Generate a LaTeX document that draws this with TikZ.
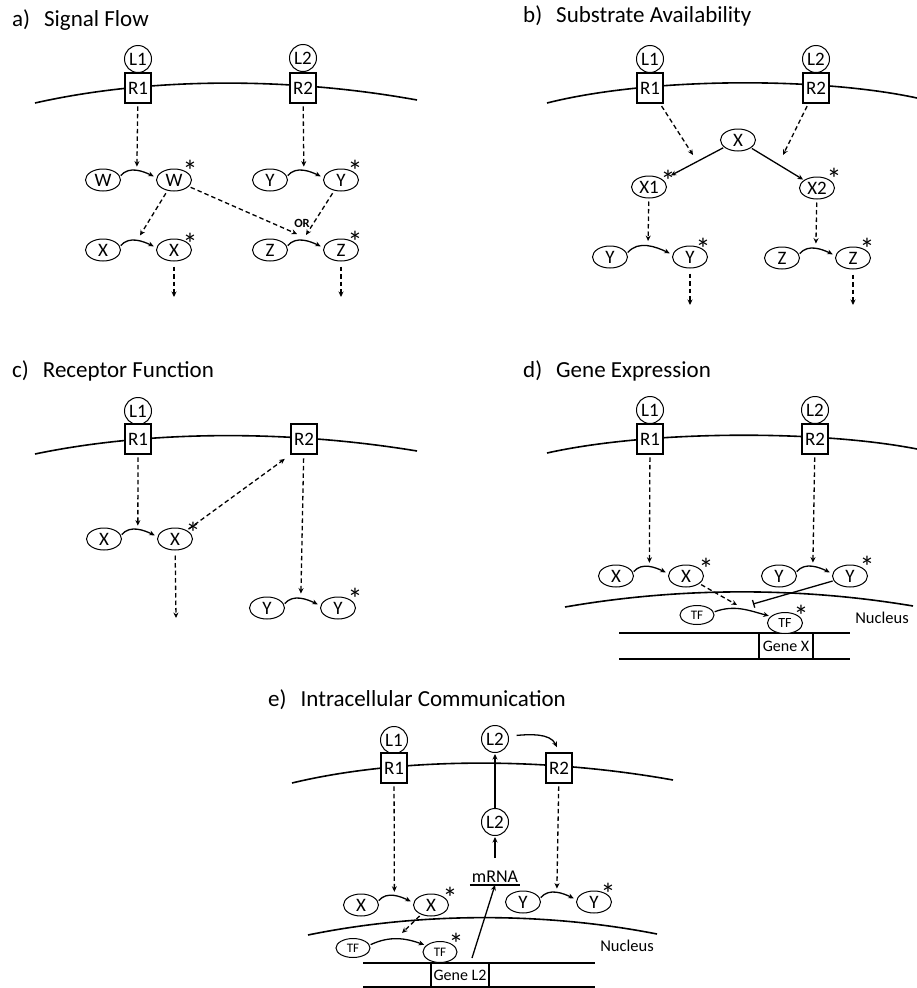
\documentclass[tikz,border=0pt]{standalone}
\usepackage{fontspec}
\setmainfont{Carlito}
\usetikzlibrary{arrows.meta,shapes.geometric,calc}
\newcommand\kinpair[7]{%
  \node[mol] (#1) at (#3,#4) {#2};
  \node[mol] (#1s) at ({#3+#5},#4) {#2};
  \node[ast] (#1a) at (#6,{#7+5.5}) {*};
  \draw[conv,shorten <=1pt,shorten >=3pt] (#1.12) to[out=50,in=155] node[coordinate,pos=.5] (#1m) {} (#1s.172);
}
\begin{document}
\begin{tikzpicture}[x=1pt,y=1pt,
  >={Stealth[length=5.5pt,width=5pt]},
  lig/.style={circle,draw,line width=1pt,minimum size=27pt,inner sep=0pt,font=\fontsize{19}{19}\selectfont,fill=white},
  rec/.style={rectangle,draw,line width=2.7pt,minimum width=26pt,minimum height=30pt,inner sep=0pt,font=\fontsize{19}{19}\selectfont,fill=white},
  mol/.style={ellipse,draw,line width=1pt,minimum width=35pt,minimum height=22pt,inner sep=0pt,font=\fontsize{19}{19}\selectfont},
  tf/.style={ellipse,draw,line width=1pt,minimum width=34pt,minimum height=19pt,inner sep=0pt,font=\fontsize{13}{13}\selectfont},
  memb/.style={line width=1.6pt},
  dsh/.style={->,line width=1.3pt,dash pattern=on 4.5pt off 3pt},
  conv/.style={->,line width=1.3pt},
  ttl/.style={anchor=base west,font=\fontsize{23}{24}\selectfont,inner sep=0pt},
  ast/.style={anchor=north,inner sep=0pt,font=\fontsize{30}{30}\selectfont},
  lbl/.style={inner sep=0pt,font=\fontsize{16.5}{17}\selectfont},
  gene/.style={draw,line width=1.2pt,minimum width=54pt,minimum height=26pt,inner sep=0pt,font=\fontsize{16}{16}\selectfont},
  dna/.style={line width=1.2pt},
]
\useasboundingbox (0,0) rectangle (917,-988);

% ---------------- titles
\node[ttl] (ta) at (12,-26) {a)\hspace{14pt}Signal Flow};
\node[ttl] (tb) at (523,-22) {b)\hspace{14pt}Substrate Availability};
\node[ttl] (tc) at (12,-377) {c)\hspace{14pt}Receptor Function};
\node[ttl] (td) at (523,-377) {d)\hspace{14pt}Gene Expression};
\node[ttl] (te) at (268,-706) {e)\hspace{14pt}Intracellular Communication};

% ---------------- membranes
\draw[memb] (35,-103) .. controls (150,-77) and (290,-77) .. (417,-100);
\draw[memb] (547,-103) .. controls (650,-77) and (820,-77) .. (917,-98);
\draw[memb] (35,-454) .. controls (150,-430) and (290,-430) .. (417,-451);
\draw[memb] (547,-453) .. controls (650,-430) and (820,-430) .. (917,-449);
\draw[memb] (565,-607) .. controls (680,-587) and (800,-587) .. (913,-606);
\draw[memb] (292,-783) .. controls (400,-757) and (545,-757) .. (673,-780);
\draw[memb] (308,-935) .. controls (420,-912) and (545,-912) .. (657,-934);

% ================= a) Signal Flow
\node[lig] (aL1) at (138,-59) {L1};
\node[rec] (aR1) at (138,-88) {R1};
\node[lig] (aL2) at (303,-58) {L2};
\node[rec] (aR2) at (303,-88) {R2};
\kinpair{aW}{W}{103}{-180}{71}{190}{-165}
\kinpair{aX}{X}{103}{-250}{71}{190}{-238}
\kinpair{aY}{Y}{270}{-180}{71}{355}{-165}
\kinpair{aZ}{Z}{270}{-250}{71}{355}{-236}
\draw[dsh,shorten <=2pt,shorten >=4pt] (aR1) -- (aWm);
\draw[dsh,shorten <=2pt,shorten >=4pt] (aR2) -- (aYm);
\draw[dsh,shorten <=3pt,shorten >=6pt] (aWs) -- (aXm);
\coordinate (aOR1) at (297,-234);
\coordinate (aOR2) at (306,-235);
\draw[dsh,shorten <=2pt] (aWs) -- (aOR1);
\draw[dsh,shorten <=3pt] (aYs) -- (aOR2);
\node[inner sep=0pt,font=\bfseries\fontsize{12.5}{12.5}\selectfont] (aOR) at (302,-223) {OR};
\coordinate (aXd) at (174,-297);
\coordinate (aZd) at (341,-297);
\draw[dsh,shorten <=5pt] (aXs) -- (aXd);
\draw[dsh,shorten <=5pt] (aZs) -- (aZd);

% ================= b) Substrate Availability
\node[lig] (bL1) at (650,-59) {L1};
\node[rec] (bR1) at (650,-88) {R1};
\node[lig] (bL2) at (816,-59) {L2};
\node[rec] (bR2) at (816,-88) {R2};
\node[mol] (bX) at (738,-140) {X};
\node[mol] (bX1) at (649,-187) {X1};
\node[ast] (bX1a) at (668,-169.5) {*};
\node[mol] (bX2) at (817,-188) {X2};
\node[ast] (bX2a) at (834,-167.5) {*};
\coordinate (bA1) at (693,-155);
\coordinate (bA2) at (783,-155);
\draw[dsh,shorten <=2pt] (bR1) -- (bA1);
\draw[dsh,shorten <=2pt] (bR2) -- (bA2);
\draw[conv,shorten <=1pt,shorten >=9pt] (bX) -- (bX1);
\draw[conv,shorten <=1pt,shorten >=1pt] (bX) -- (bX2);
\kinpair{bY}{Y}{610}{-257}{80}{703}{-243}
\kinpair{bZ}{Z}{782}{-258}{71}{867}{-243}
\draw[dsh,shorten <=3pt,shorten >=5pt] (bX1) -- (bYm);
\draw[dsh,shorten <=3pt,shorten >=5pt] (bX2) -- (bZm);
\coordinate (bYd) at (690,-305);
\coordinate (bZd) at (853,-305);
\draw[dsh,shorten <=5pt] (bYs) -- (bYd);
\draw[dsh,shorten <=5pt] (bZs) -- (bZd);

% ================= c) Receptor Function
\node[lig] (cL1) at (138,-411) {L1};
\node[rec] (cR1) at (138,-439) {R1};
\node[rec] (cR2) at (304,-439) {R2};
\kinpair{cX}{X}{104}{-539}{71}{193}{-527}
\kinpair{cY}{Y}{267}{-608}{71}{355}{-593}
\draw[dsh,shorten <=2pt,shorten >=4pt] (cR1) -- (cXm);
\draw[dsh,shorten <=3pt,shorten >=5pt] (cR2) -- (cYm);
\draw[dsh,shorten <=2pt,shorten >=6pt] (cXs) -- (cR2.south west);
\coordinate (cXd) at (176,-618);
\draw[dsh,shorten <=5pt] (cXs) -- (cXd);

% ================= d) Gene Expression
\node[lig] (dL1) at (650,-410) {L1};
\node[rec] (dR1) at (650,-439) {R1};
\node[lig] (dL2) at (815,-410) {L2};
\node[rec] (dR2) at (815,-439) {R2};
\kinpair{dX}{X}{616}{-576}{70}{706}{-563}
\kinpair{dY}{Y}{779}{-576}{71}{867}{-561}
\draw[dsh,shorten <=2pt,shorten >=4pt] (dR1) -- (dXm);
\draw[dsh,shorten <=2pt,shorten >=4pt] (dR2) -- (dYm);
\draw[dna] (619,-633) -- (850,-633);
\draw[dna] (619,-659) -- (850,-659);
\node[gene] (dGene) at (786,-646) {Gene X};
\node[tf] (dTF) at (697,-615) {TF};
\node[tf,minimum width=35pt,minimum height=21pt,font=\fontsize{14}{14}\selectfont,fill=white] (dTFs) at (785,-623) {TF};
\node[ast] (dTFa) at (801,-604.5) {*};
\draw[conv,shorten <=1pt,shorten >=2pt] (dTF.10) to[out=20,in=165] node[coordinate,pos=.5] (dTFm) {} (dTFs.155);
\coordinate (dXt) at (737,-605);
\coordinate (dYt) at (753,-604);
\draw[dsh,shorten <=2pt] (dXs) -- (dXt);
\draw[line width=1.3pt,-{Bar[width=8pt]},shorten <=1pt] (dYs) -- (dYt);
\node[lbl] (dNuc) at (882,-618) {Nucleus};

% ================= e) Intracellular Communication
\node[lig] (eL1) at (394,-740) {L1};
\node[rec] (eR1) at (394,-768) {R1};
\node[lig] (eL2t) at (495,-739) {L2};
\node[rec] (eR2) at (559,-768) {R2};
\node[lig] (eL2b) at (495,-822) {L2};
\node[anchor=south,minimum width=50pt,inner xsep=0pt,inner ysep=2.5pt,font=\fontsize{18}{18}\selectfont] (mrna) at (495,-885) {mRNA};
\draw[line width=1.2pt] (mrna.south west) -- (mrna.south east);
\draw[conv,shorten <=8pt,shorten >=5pt] (eL2t.12) to[out=5,in=115] (eR2.north);
\draw[conv,shorten >=1pt] (eL2b) -- (eL2t);
\draw[conv,shorten <=10pt,shorten >=1pt] (mrna) -- (eL2b);
\kinpair{eX}{X}{361}{-905}{70}{450}{-892}
\kinpair{eY}{Y}{523}{-902}{71}{608}{-888}
\draw[dsh,shorten <=2pt,shorten >=4pt] (eR1) -- (eXm);
\draw[dsh,shorten <=2pt,shorten >=4pt] (eR2) -- (eYm);
\draw[dna] (363,-963) -- (595,-963);
\draw[dna] (363,-987) -- (595,-987);
\node[gene,minimum width=58pt,minimum height=24pt] (eGene) at (460,-975) {Gene L2};
\node[tf] (eTF) at (353,-948) {TF};
\node[tf,minimum width=34pt,minimum height=21pt,fill=white] (eTFs) at (440,-952) {TF};
\node[ast] (eTFa) at (456,-932.5) {*};
\draw[conv,shorten <=1pt,shorten >=2pt] (eTF.10) to[out=25,in=160] node[coordinate,pos=.5] (eTFm) {} (eTFs.155);
\coordinate (eXt) at (402,-933);
\draw[dsh,shorten <=2pt] (eXs) -- (eXt);
\coordinate (eGs) at (472,-958);
\draw[conv] (eGs) -- (mrna.south);
\node[lbl] (eNuc) at (627,-946) {Nucleus};
\end{tikzpicture}
\end{document}
